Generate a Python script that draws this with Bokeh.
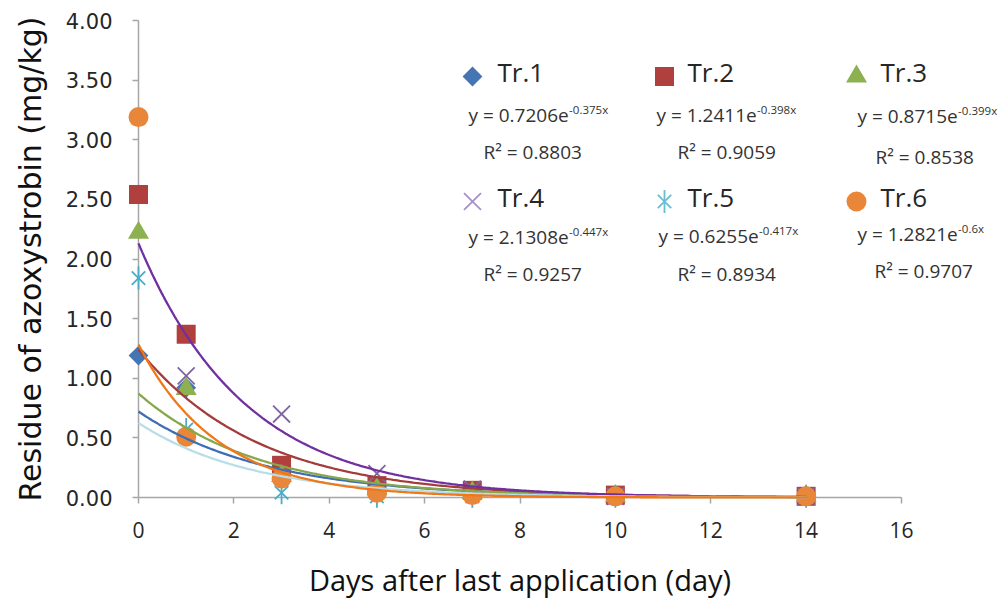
import numpy as np
from bokeh.plotting import figure
from bokeh.models import Range1d, FixedTicker, PrintfTickFormatter, Label
from bokeh.embed import file_html
from bokeh.resources import INLINE

# ---------------- data ----------------
days = [0, 1, 3, 5, 7, 10, 14]
tr1 = [1.19, 0.92, 0.22, 0.07, 0.04, 0.01, 0.01]
tr2 = [2.54, 1.37, 0.27, 0.10, 0.06, 0.02, 0.01]
tr3 = [2.22, 0.91, 0.18, 0.07, 0.04, 0.01, 0.01]
tr4_days = [1, 3, 5, 7, 10, 14]
tr4 = [1.02, 0.70, 0.20, 0.07, 0.01, 0.01]
tr5 = [1.84, 0.57, 0.04, 0.01, 0.01, 0.01, 0.01]
tr6 = [3.19, 0.51, 0.16, 0.04, 0.02, 0.01, 0.01]

names = ["Tr.1", "Tr.2", "Tr.3", "Tr.4", "Tr.5", "Tr.6"]
coef_a = [0.7206, 1.2411, 0.8715, 2.1308, 0.6255, 1.2821]
coef_b = [-0.375, -0.398, -0.399, -0.447, -0.417, -0.6]
eq_a_text = ["0.7206", "1.2411", "0.8715", "2.1308", "0.6255", "1.2821"]
eq_b_text = ["-0.375x", "-0.398x", "-0.399x", "-0.447x", "-0.417x", "-0.6x"]
r2_text = ["0.8803", "0.9059", "0.8538", "0.9257", "0.8934", "0.9707"]
trend_end = [14, 14, 14, 12, 14, 14]

x_ticks = [0, 2, 4, 6, 8, 10, 12, 14, 16]
y_ticks = [0, 0.5, 1.0, 1.5, 2.0, 2.5, 3.0, 3.5, 4.0]

series_x = [days, days, days, tr4_days, days, days]
series_y = [tr1, tr2, tr3, tr4, tr5, tr6]
kinds = ["diamond", "square", "triangle", "x", "asterisk", "circle"]
marker_colors = ["#4675B4", "#B0403E", "#8DB050", "#7F65A0", "#4BACC6", "#E8873A"]
legend_colors = ["#4675B4", "#B0403E", "#8DB050", "#A393C8", "#6CBCD2", "#E8873A"]
line_colors = ["#3E6DB5", "#A33C3A", "#86A84A", "#7030A0", "#B7DEE8", "#F07818"]

# ---------------- figure ----------------
W, H = 998, 600
# axis box in page pixels: x 0..16 -> 138..901, y 0..4 -> 497..20
AX0, AX1, AY0, AY1 = 138.0, 901.0, 497.0, 20.0
sx_u = (AX1 - AX0) / 16.0
sy_u = (AY0 - AY1) / 4.0
x_start, x_end = -AX0 / sx_u, (W - AX0) / sx_u
y_start, y_end = -(H - AY0) / sy_u, 4.0 + AY1 / sy_u

p = figure(width=W, height=H, output_backend="svg", toolbar_location=None,
           x_range=Range1d(x_start, x_end), y_range=Range1d(y_start, y_end),
           min_border=0, min_border_left=0, min_border_right=0,
           min_border_top=0, min_border_bottom=0,
           background_fill_color="white", border_fill_color="white")
p.outline_line_color = None
p.grid.visible = False

axis_col = "#A6A6A6"
for ax in (p.xaxis[0], p.yaxis[0]):
    ax.fixed_location = 0
    ax.level = "underlay"
    ax.axis_line_color = axis_col
    ax.axis_line_width = 1.5
    ax.major_tick_line_color = axis_col
    ax.major_tick_line_width = 1.5
    ax.major_tick_out = 6
    ax.major_tick_in = 0
    ax.minor_tick_line_color = None
    ax.major_label_text_color = "#262626"
    ax.axis_label_text_color = "#111111"
    ax.axis_label_text_font_style = "normal"

p.xaxis.bounds = (0, 16)
p.yaxis.bounds = (0, 4)
p.xaxis.ticker = FixedTicker(ticks=x_ticks)
p.yaxis.ticker = FixedTicker(ticks=y_ticks)
p.yaxis.formatter = PrintfTickFormatter(format="%.2f")

p.xaxis.major_label_text_font = "Open Sans"
p.xaxis.major_label_text_font_size = "21px"
p.xaxis.major_label_standoff = 18
p.xaxis.axis_label = "Days after last application (day)"
p.xaxis.axis_label_text_font = "Open Sans"
p.xaxis.axis_label_text_font_size = "29px"
p.xaxis.axis_label_standoff = 19

p.yaxis.major_label_text_font = "DejaVu Sans"
p.yaxis.major_label_text_font_size = "21px"
p.yaxis.major_label_standoff = 20
p.yaxis.axis_label = "Residue of azoxystrobin (mg/kg)"
p.yaxis.axis_label_text_font = "DejaVu Sans"
p.yaxis.axis_label_text_font_size = "30px"
p.yaxis.axis_label_standoff = 15


def dx(px):
    return (px - AX0) / sx_u
def dy(py):
    return (AY0 - py) / sy_u


def draw_marker(kind, xs, ys, color):
    if kind == "diamond":
        p.scatter(xs, ys, marker="square", angle=np.pi / 4, size=14,
                  fill_color=color, line_color=None)
    elif kind == "square":
        p.scatter(xs, ys, marker="square", size=19, fill_color=color, line_color=None)
    elif kind == "triangle":
        p.scatter(xs, ys, marker="triangle", size=21, fill_color=color, line_color=None)
    elif kind == "circle":
        p.scatter(xs, ys, marker="circle", size=20, fill_color=color, line_color=None)
    elif kind == "x":
        p.scatter(xs, ys, marker="x", size=24, line_color=color, line_width=1.8)
    elif kind == "asterisk":
        p.scatter(xs, ys, marker="x", size=19, line_color=color, line_width=1.8)
        p.scatter(xs, ys, marker="dash", angle=np.pi / 2, size=23, line_color=color, line_width=1.8)


# markers
for i in range(6):
    draw_marker(kinds[i], series_x[i], series_y[i], marker_colors[i])

# trendlines
for i in range(6):
    xs = np.linspace(0, trend_end[i], 300)
    ys = coef_a[i] * np.exp(coef_b[i] * xs)
    p.line(xs, ys, line_color=line_colors[i], line_width=2.3)

# ---------------- legend block ----------------
OS = {"digit": 0.572, ".": 0.266, " ": 0.26, "y": 0.49, "=": 0.572, "e": 0.561}
def text_w(s, size):
    w = 0.0
    for ch in s:
        w += OS["digit"] if ch.isdigit() else OS.get(ch, 0.55)
    return w * size

BASE_K = 0.36  # renderer baseline correction (fraction of font size)

col_marker_x = [472, 664, 856]
col_tr_x = [497, 687, 880]
col_eq_x = [[468, 656, 857], [468, 658, 857]]
col_r2_x = [[483, 677, 875], [483, 677, 874]]
row_marker_y = [76, 201]
row_tr_base = [81, 206]
row_eq_base = [[121, 121, 122], [243, 242, 240]]
row_r2_base = [[158, 158, 163], [280, 280, 277]]

TR_SIZE, EQ_SIZE, SUP_SIZE = 26, 19, 11.5
for i in range(6):
    r, c = divmod(i, 3)
    draw_marker(kinds[i], [dx(col_marker_x[c])], [dy(row_marker_y[r])], legend_colors[i])
    p.add_layout(Label(x=dx(col_tr_x[c]), y=dy(row_tr_base[r] - BASE_K * TR_SIZE), text=names[i],
                       text_font="Open Sans", text_font_size=f"{TR_SIZE}px", text_color="#262626",
                       text_align="left", text_baseline="alphabetic"))
    main = "y = " + eq_a_text[i] + "e"
    ex = col_eq_x[r][c]
    eb = row_eq_base[r][c]
    p.add_layout(Label(x=dx(ex), y=dy(eb - BASE_K * EQ_SIZE), text=main,
                       text_font="Open Sans", text_font_size=f"{EQ_SIZE}px", text_color="#333333",
                       text_align="left", text_baseline="alphabetic"))
    sx = ex + text_w(main, EQ_SIZE) + 0.5
    p.add_layout(Label(x=dx(sx), y=dy(eb - 8 - BASE_K * SUP_SIZE), text=eq_b_text[i],
                       text_font="Open Sans", text_font_size=f"{SUP_SIZE}px", text_color="#333333",
                       text_align="left", text_baseline="alphabetic"))
    p.add_layout(Label(x=dx(col_r2_x[r][c]), y=dy(row_r2_base[r][c] - BASE_K * EQ_SIZE),
                       text="R² = " + r2_text[i],
                       text_font="Open Sans", text_font_size=f"{EQ_SIZE}px", text_color="#333333",
                       text_align="left", text_baseline="alphabetic"))

open("out.html", "w").write(file_html(p, INLINE))
